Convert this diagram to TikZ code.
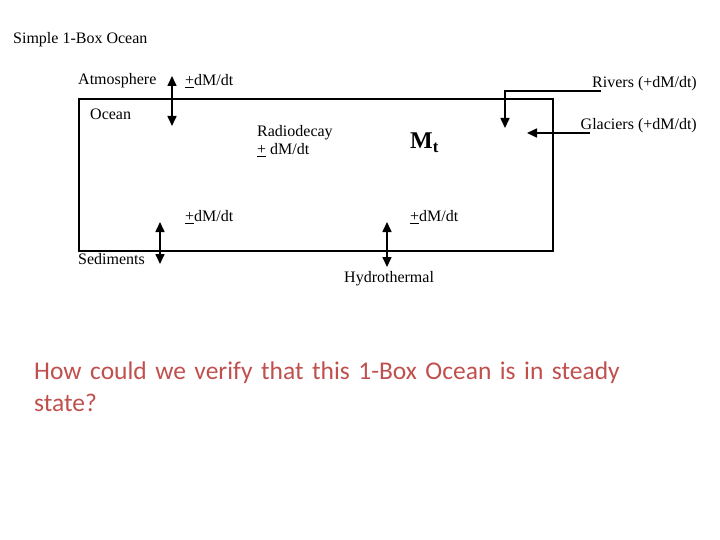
\documentclass[tikz,border=0pt]{standalone}
\usepackage{fontspec}
\setmainfont{Liberation Serif}
\newfontfamily\calib{Carlito}
\usetikzlibrary{arrows.meta}
\definecolor{qred}{RGB}{192,80,77}
\begin{document}
\begin{tikzpicture}[x=1pt,y=-1pt,
  lbl/.style={inner sep=0pt,anchor=west,font=\fontsize{16}{18.5}\selectfont},
  flow/.style={line width=1.6pt,{Triangle[length=10pt,width=9pt]}-{Triangle[length=10pt,width=9pt]}},
  oneway/.style={line width=1.6pt,-{Triangle[length=10pt,width=9pt]}}]
\useasboundingbox (0,0) rectangle (720,540);
\node[lbl] (title) at (13,40) {Simple 1-Box Ocean};
\node[draw,line width=1.8pt,minimum width=474pt,minimum height=152pt,anchor=north west,inner sep=0pt] (box) at (78,98) {};
\node[lbl] (atm) at (78,81) {Atmosphere};
\node[lbl] (atmf) at (185,81) {\underline{+}dM/dt};
\node[lbl] (ocean) at (90,114) {Ocean};
\node[lbl,align=left,anchor=north west] (radio) at (257,125) {Radiodecay\\\underline{+} dM/dt};
\node[lbl,font=\fontsize{24}{26}\selectfont\bfseries] (mt) at (410,143) {M\textsubscript{t}};
\node[lbl] (sedf) at (185,217) {\underline{+}dM/dt};
\node[lbl] (hydf) at (410,217) {\underline{+}dM/dt};
\node[lbl] (sed) at (78,259) {Sediments};
\node[lbl] (hyd) at (344,279) {Hydrothermal};
\node[lbl,anchor=east] (riv) at (697,84) {Rivers (+dM/dt)};
\node[lbl,anchor=east] (gla) at (697,126) {Glaciers (+dM/dt)};
\coordinate (a1) at (172,76); \coordinate (a2) at (172,126);
\draw[flow] (a1) -- (a2);
\coordinate (s1) at (160,222); \coordinate (s2) at (160,264);
\draw[flow] (s1) -- (s2);
\coordinate (h1) at (387,222); \coordinate (h2) at (387,267);
\draw[flow] (h1) -- (h2);
\coordinate (r1) at (601,91); \coordinate (r2) at (505,128);
\draw[oneway] (r1) -- (r2 |- r1) -- (r2);
\coordinate (g1) at (590,133); \coordinate (g2) at (527,133);
\draw[oneway] (g1) -- (g2);
\node[inner sep=0pt,anchor=north west,align=left,text=qred,font=\calib\fontsize{25.5}{32}\selectfont,text width=630pt] (q) at (34,362) {How could we verify that this 1-Box Ocean is in steady state?};
\end{tikzpicture}
\end{document}
